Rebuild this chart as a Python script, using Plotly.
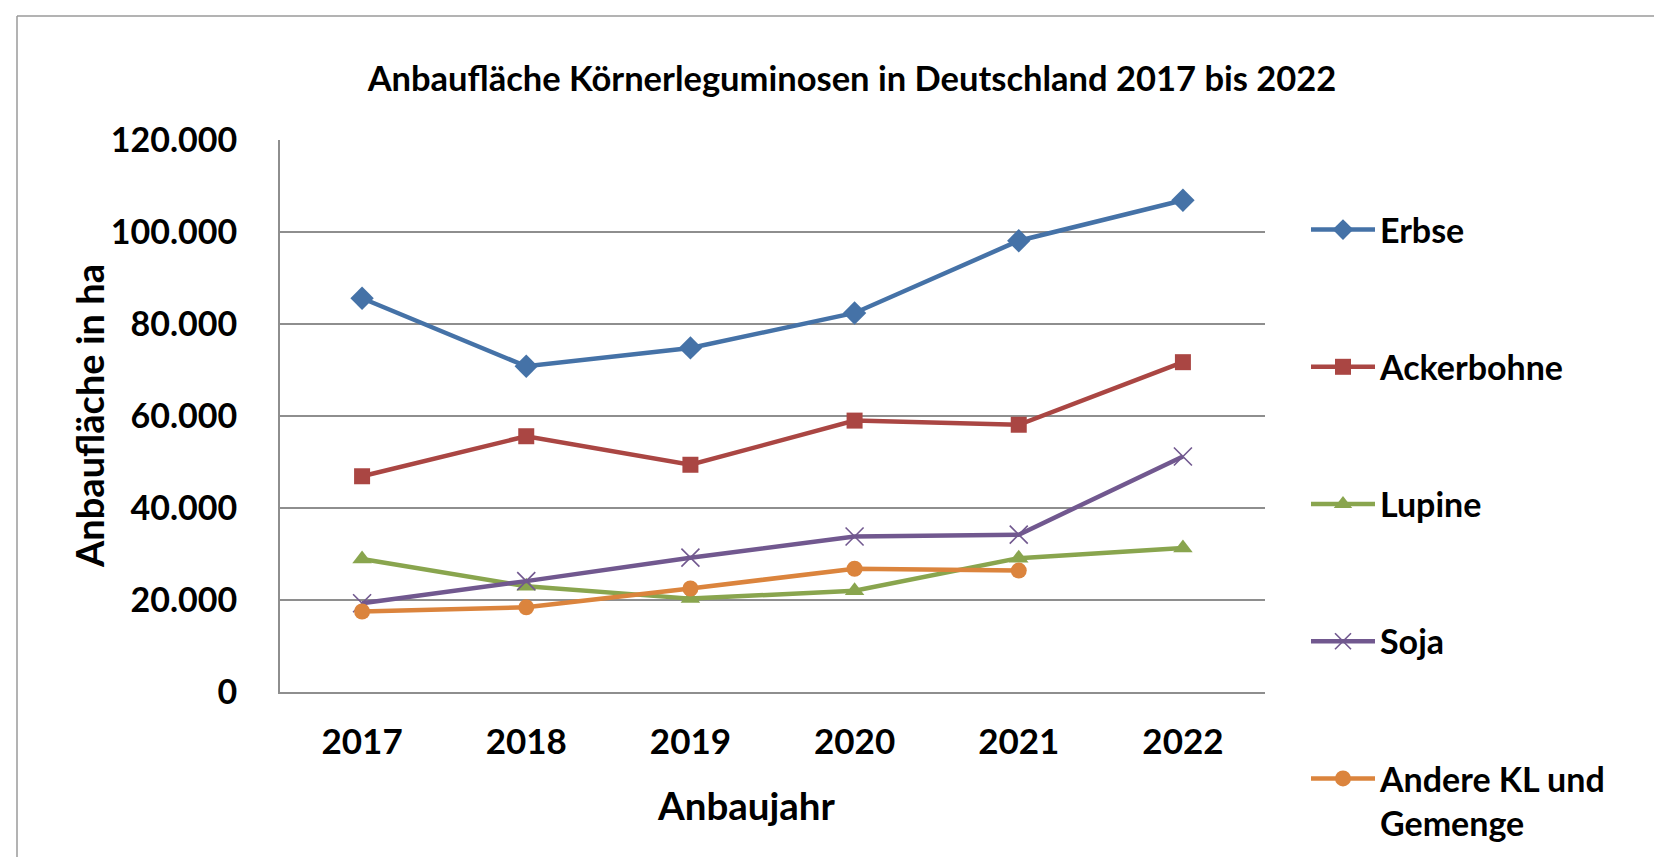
import plotly.graph_objects as go

years = ["2017", "2018", "2019", "2020", "2021", "2022"]
erbse = [85600, 70800, 74800, 82400, 98100, 106900]
ackerbohne = [46900, 55600, 49400, 59000, 58100, 71700]
lupine = [28900, 23000, 20300, 22000, 29100, 31300]
soja = [19300, 24100, 29200, 33800, 34200, 51200]
andere = [17500, 18400, 22500, 26800, 26400, None]

series_names = ["Erbse", "Ackerbohne", "Lupine", "Soja", "Andere KL und<br>Gemenge"]
series_values = [erbse, ackerbohne, lupine, soja, andere]
colors = ["#4572A7", "#AA4643", "#89A54E", "#71588F", "#DB843D"]
symbols = ["diamond", "square", "triangle-up", "x-thin", "circle"]
sizes = [18, 16, 17, 18, 16]

y_tickvals = [0, 20000, 40000, 60000, 80000, 100000, 120000]
y_ticktext = ["0", "20.000", "40.000", "60.000", "80.000", "100.000", "120.000"]

title_text = "Anbaufläche Körnerleguminosen in Deutschland 2017 bis 2022"
x_title = "Anbaujahr"
y_title = "Anbaufläche in ha"

FONT = "Lato"
W, H = 1662, 857
L, R, T, B = 272, 1257, 132, 684

fig = go.Figure()
for i, (name, vals) in enumerate(zip(series_names, series_values)):
    marker = dict(symbol=symbols[i], size=sizes[i], color=colors[i])
    if symbols[i] == "x-thin":
        marker["line"] = dict(width=1.6, color=colors[i])
    else:
        marker["line"] = dict(width=0)
    fig.add_trace(go.Scatter(
        x=years, y=vals, name=name, mode="lines+markers",
        line=dict(color=colors[i], width=4.5),
        marker=marker, legendgroup=f"g{i}", connectgaps=False,
    ))

pw, ph = R - L, B - T

fig.update_layout(
    width=W, height=H,
    margin=dict(l=L, r=W - R, t=T, b=H - B, autoexpand=False),
    paper_bgcolor="white", plot_bgcolor="white",
    font=dict(family=FONT, size=34, color="black", weight="bold"),
    title=dict(text=title_text, x=844 / W, xref="container", xanchor="center",
               y=1 - 71 / H, yref="container", yanchor="middle",
               font=dict(family=FONT, size=34.5, color="black", weight="bold")),
    showlegend=True,
    legend=dict(x=(1298 - L) / pw, xanchor="left", y=(B - 193) / ph, yanchor="top",
                font=dict(family=FONT, size=34, color="black", weight="bold"),
                tracegroupgap=90, traceorder="grouped", valign="top",
                itemwidth=64, maxheight=800,
                bgcolor="rgba(0,0,0,0)", borderwidth=0),
    xaxis=dict(type="category", range=[-0.5, 5.5], showgrid=False,
               showline=True, linecolor="#8E8E8E", linewidth=2,
               ticks="", ticklabelstandoff=18,
               tickfont=dict(family=FONT, size=35, color="black", weight="bold")),
    yaxis=dict(range=[0, 120000], tickvals=y_tickvals, ticktext=y_ticktext,
               showgrid=True, gridcolor="#8E8E8E", gridwidth=1.5,
               showline=True, linecolor="#8E8E8E", linewidth=2,
               zeroline=False, ticks="", ticklabelstandoff=34,
               tickfont=dict(family=FONT, size=34, color="black", weight="bold")),
    annotations=[
        dict(text=x_title, xref="paper", yref="paper", x=(738 - L) / pw, y=(B - 797) / ph,
             xanchor="center", yanchor="middle", showarrow=False,
             font=dict(family=FONT, size=38.5, color="black", weight="bold")),
        dict(text=y_title, xref="paper", yref="paper", x=(81 - L) / pw, y=0.5,
             xanchor="center", yanchor="middle", showarrow=False, textangle=-90,
             font=dict(family=FONT, size=38, color="black", weight="bold")),
    ],
    shapes=[
        dict(type="line", xref="paper", yref="paper", x0=(9 - L) / pw, x1=(9 - L) / pw,
             y0=(B - 8) / ph, y1=(B - 860) / ph, line=dict(color="#9A9A9A", width=1.5)),
        dict(type="line", xref="paper", yref="paper", x0=(9 - L) / pw, x1=(1655 - L) / pw,
             y0=(B - 8) / ph, y1=(B - 8) / ph, line=dict(color="#9A9A9A", width=1.5)),
    ],
)

fig.write_html("out.html")
